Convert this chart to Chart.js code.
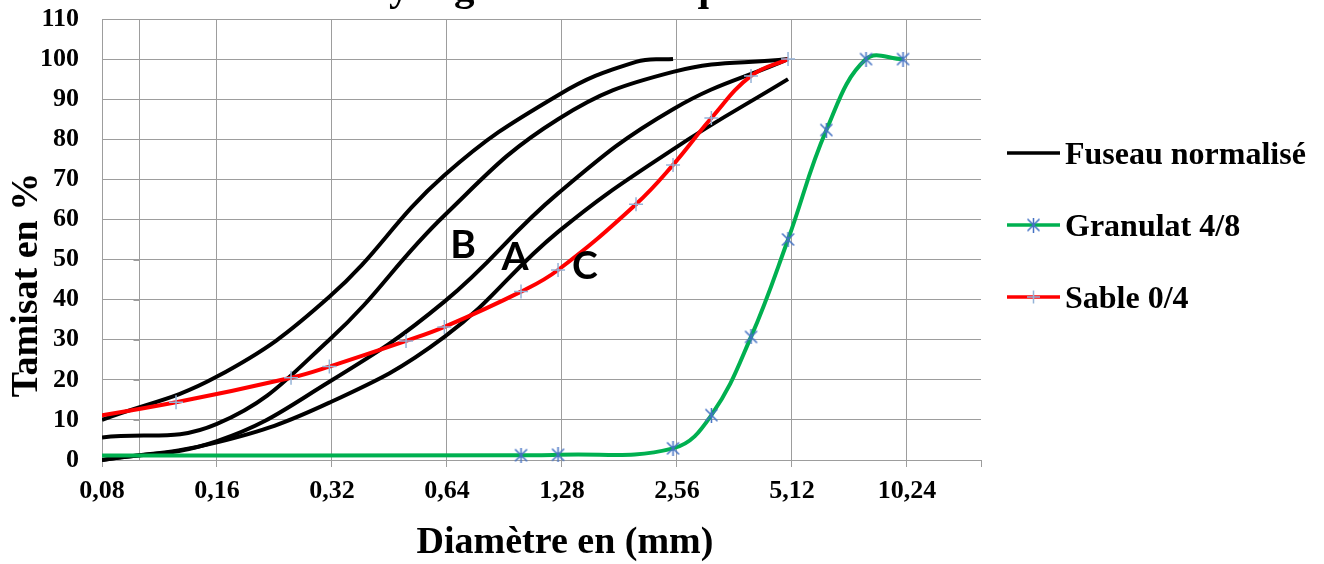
<!DOCTYPE html>
<html><head><meta charset="utf-8">
<script src="https://cdn.jsdelivr.net/npm/chart.js@4.4.1/dist/chart.umd.min.js"></script>
<style>html,body{margin:0;padding:0;background:#fff}#wrap{width:1324px;height:564px;position:relative}</style>
</head><body><div id="wrap"><canvas id="c"></canvas></div>
<script>
// ---- texts ----
const chartTitle = 'Analyse granulométrique';
const xAxisTitle = 'Diamètre en (mm)';
const yAxisTitle = 'Tamisat en %';
const legendLabels = ['Fuseau normalisé', 'Granulat 4/8', 'Sable 0/4'];

// ---- axes ----
const xMin = 0.08, xMax = 16;
const xTickValues = [0.08, 0.16, 0.32, 0.64, 1.28, 2.56, 5.12, 10.24, 16];
const xTickLabels = ['0,08', '0,16', '0,32', '0,64', '1,28', '2,56', '5,12', '10,24', ''];
const yTickValues = [0, 10, 20, 30, 40, 50, 60, 70, 80, 90, 100, 110];
const yAxisCross = 0.1;

// ---- fuseau normalisé (4 limit curves) ----
const fuseauD  = [0.08, 0.16, 0.315, 0.63, 1.25, 2.5, 5];
const fuseau1D = [0.08, 0.16, 0.315, 0.63, 1.25, 2, 2.5];
const fuseau1  = [10, 20.8, 40.7, 71, 91, 99.3, 100];
const fuseau2  = [5.6, 9, 30, 61, 85, 96.8, 100];
const fuseau3  = [0, 4.7, 19.5, 39.5, 66.5, 87.5, 100];
const fuseau4  = [0, 4.4, 14.3, 30.7, 56.9, 77.5, 95];

// ---- Sable 0/4 ----
const sableD = [0.063, 0.125, 0.25, 0.315, 0.5, 0.63, 1, 1.25, 2, 2.5, 3.15, 4, 5];
const sable  = [9.5, 14.4, 20.5, 23.3, 29.7, 33.2, 42, 47.4, 63.8, 73.6, 85.3, 95.8, 100];

// ---- Granulat 4/8 ----
const granD    = [0.063, 1, 1.25, 2.5, 3.15, 4, 5, 6.3, 8, 10];
const granulat = [1.1, 1.2, 1.3, 2.9, 11.2, 30.7, 55, 82.3, 100, 100];

// ---- zone letters ----
const zoneLabels = ['B', 'A', 'C'];
const zoneD = [0.705, 0.964, 1.47];
const zoneP = [53.4, 50.5, 48.2];

// ---- styles ----
const gridColor = '#9d9d9d';
const serif = '"Liberation Serif", "Times New Roman", serif';
const starColor = '#4472c4';
const plusColor = '#95b3d7';

function pts(d, v) { return d.map((x, i) => ({ x: x, y: v[i] })); }

function starMarker() {
  const c = document.createElement('canvas');
  c.width = 15; c.height = 15;
  const g = c.getContext('2d');
  g.strokeStyle = starColor; g.lineWidth = 1.5;
  g.beginPath();
  g.moveTo(1.5, 1.5); g.lineTo(13.5, 13.5);
  g.moveTo(13.5, 1.5); g.lineTo(1.5, 13.5);
  g.moveTo(7.5, 0); g.lineTo(7.5, 15);
  g.stroke();
  return c;
}
const star = starMarker();

const clipOpt = { left: 0, top: 6, right: 6, bottom: 6 };
function fuseauDs(d, v, name) {
  return { label: name, data: pts(d, v), borderColor: '#000', borderWidth: 4, pointRadius: 0,
    tension: 0.42, fill: false, order: 2, clip: clipOpt };
}

const datasets = [
  { label: legendLabels[2], data: pts(sableD, sable), borderColor: '#ff0000', borderWidth: 4,
    pointStyle: 'cross', pointRadius: 7, pointBorderColor: plusColor, pointBorderWidth: 1.5,
    pointBackgroundColor: plusColor, tension: 0.42, order: 0, clip: clipOpt },
  { label: legendLabels[1], data: pts(granD, granulat), borderColor: '#00b050', borderWidth: 4,
    pointStyle: star, pointRadius: 7, tension: 0.4, order: 1, clip: clipOpt },
  fuseauDs(fuseau1D, fuseau1, 'F1'),
  fuseauDs(fuseauD, fuseau2, 'F2'),
  fuseauDs(fuseauD, fuseau3, 'F3'),
  fuseauDs(fuseauD, fuseau4, 'F4')
];

const deco = {
  id: 'deco',
  beforeDatasetsDraw(chart) {
    const { ctx, chartArea: a, scales: { x, y } } = chart;
    const px = Math.round(x.getPixelForValue(yAxisCross)) + 0.5;
    ctx.save();
    ctx.strokeStyle = gridColor; ctx.lineWidth = 1;
    ctx.beginPath();
    ctx.moveTo(px, a.top); ctx.lineTo(px, a.bottom);
    yTickValues.forEach(v => { const py = Math.round(y.getPixelForValue(v)) + 0.5; ctx.moveTo(px - 6, py); ctx.lineTo(px, py); });
    ctx.stroke();
    ctx.restore();
  },
  afterDatasetsDraw(chart) {
    const { ctx, scales: { x, y } } = chart;
    ctx.save();
    ctx.fillStyle = '#000';
    ctx.font = 'bold 39px Lato, "Open Sans", sans-serif';
    ctx.textAlign = 'center'; ctx.textBaseline = 'middle';
    zoneLabels.forEach((t, i) => ctx.fillText(t, x.getPixelForValue(zoneD[i]), y.getPixelForValue(zoneP[i])));
    ctx.restore();
  },
  afterDraw(chart) {
    const ctx = chart.ctx;
    ctx.save();
    ctx.fillStyle = '#000';
    // title (mostly cut off at top)
    ctx.font = 'bold 41px ' + serif;
    ctx.textAlign = 'left'; ctx.textBaseline = 'alphabetic';
    const tx = 389 - ctx.measureText('Anal').width;
    ctx.fillText(chartTitle, tx, 0);
    // x axis title
    ctx.font = 'bold 38px ' + serif;
    ctx.textAlign = 'center';
    ctx.fillText(xAxisTitle, 565, 553);
    // y axis title
    ctx.save();
    ctx.translate(37, 285); ctx.rotate(-Math.PI / 2);
    ctx.fillText(yAxisTitle, 0, 0);
    ctx.restore();
    // legend
    const lx0 = 1007, lx1 = 1060, ltx = 1065;
    const rows = [153, 225, 297];
    const cols = ['#000', '#00b050', '#ff0000'];
    ctx.font = 'bold 32px ' + serif;
    ctx.textAlign = 'left'; ctx.textBaseline = 'alphabetic';
    rows.forEach((ry, i) => {
      ctx.strokeStyle = cols[i]; ctx.lineWidth = 3.5;
      ctx.beginPath(); ctx.moveTo(lx0, ry); ctx.lineTo(lx1, ry); ctx.stroke();
      const mx = (lx0 + lx1) / 2;
      if (i === 1) ctx.drawImage(star, mx - 7.5, ry - 7.5);
      if (i === 2) {
        ctx.strokeStyle = plusColor; ctx.lineWidth = 1.5;
        ctx.beginPath(); ctx.moveTo(mx - 6.5, ry); ctx.lineTo(mx + 6.5, ry);
        ctx.moveTo(mx, ry - 6.5); ctx.lineTo(mx, ry + 6.5); ctx.stroke();
      }
      ctx.fillText(legendLabels[i], ltx, ry + 10.5);
    });
    ctx.restore();
  }
};

new Chart(document.getElementById('c'), {
  type: 'line',
  data: { datasets: datasets },
  options: {
    responsive: true, maintainAspectRatio: false, animation: false,
    layout: { padding: { top: 19, right: 343, bottom: 0, left: 0 } },
    plugins: { legend: { display: false }, title: { display: false }, tooltip: { enabled: false } },
    scales: {
      x: {
        type: 'logarithmic', min: xMin, max: xMax,
        afterBuildTicks(scale) { scale.ticks = xTickValues.map(v => ({ value: v, major: false })); },
        afterFit(scale) { scale.height = 104; },
        ticks: {
          autoSkip: false, maxRotation: 0, minRotation: 0, padding: 9, color: '#000',
          font: { family: serif, size: 26, weight: 'bold' },
          callback(v, i) { return xTickLabels[i]; }
        },
        grid: {
          color: c => (c.tick && c.tick.value === xMax) ? 'rgba(0,0,0,0)' : gridColor,
          tickColor: gridColor, tickLength: 7, lineWidth: 1
        },
        border: { display: true, color: gridColor, width: 1 }
      },
      y: {
        type: 'linear', min: 0, max: 110,
        afterBuildTicks(scale) { scale.ticks = yTickValues.map(v => ({ value: v })); },
        afterFit(scale) { scale.width = 102; },
        ticks: {
          padding: 0, color: '#000', autoSkip: false,
          font: { family: serif, size: 26, weight: 'bold' }
        },
        grid: { color: gridColor, drawTicks: true, tickLength: 23, tickColor: 'rgba(0,0,0,0)', lineWidth: 1 },
        border: { display: true, color: gridColor, width: 1 }
      }
    }
  },
  plugins: [deco]
});
</script>
</body></html>
